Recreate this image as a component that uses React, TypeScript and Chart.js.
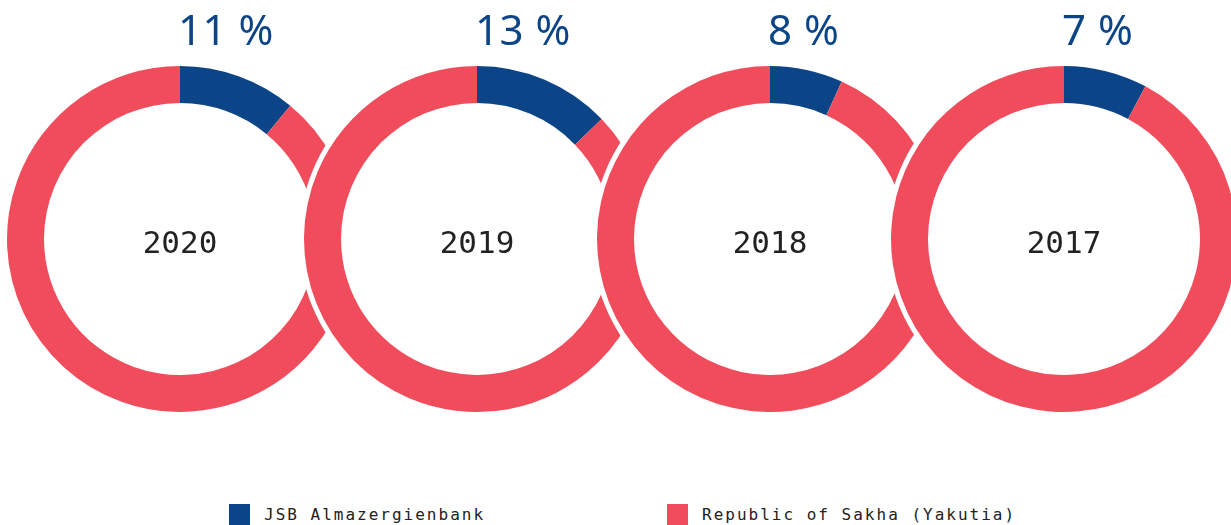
import React, { useEffect, useRef } from "react";
import { Chart, registerables } from "chart.js";

Chart.register(...registerables);

const years = ["2020", "2019", "2018", "2017"];
const bankShare = [11, 12.8, 6.8, 7.8];
const regionShare = [89, 87.2, 93.2, 92.2];
const percentLabels = ["11 %", "13 %", "8 %", "7 %"];
const seriesNames = ["JSB Almazergienbank", "Republic of Sakha (Yakutia)"];

const BLUE = "#0c4587";
const RED = "#f04c5c";
const CENTERS_X = [180, 477, 770, 1064];
const CENTER_Y = 239;
const RADIUS = 173;
const PAD = 10;
const SIZE = (RADIUS + PAD) * 2;
const GAP = 5;

function Donut({ index }: { index: number }) {
  const ref = useRef<HTMLCanvasElement | null>(null);
  useEffect(() => {
    const canvas = ref.current;
    if (!canvas) return;
    const label = years[index];
    const plugin = {
      id: "discAndLabel",
      beforeDatasetsDraw(chart: any) {
        const arc = chart.getDatasetMeta(0).data[0];
        if (!arc) return;
        const ctx = chart.ctx;
        ctx.save();
        ctx.beginPath();
        ctx.arc(arc.x, arc.y, arc.outerRadius + GAP, 0, Math.PI * 2);
        ctx.fillStyle = "#ffffff";
        ctx.fill();
        ctx.restore();
      },
      afterDatasetsDraw(chart: any) {
        const arc = chart.getDatasetMeta(0).data[0];
        if (!arc) return;
        const ctx = chart.ctx;
        ctx.save();
        ctx.font = "31px 'DejaVu Sans Mono'";
        ctx.fillStyle = "#222222";
        ctx.textAlign = "center";
        ctx.textBaseline = "alphabetic";
        ctx.fillText(label, arc.x, arc.y + 14);
        ctx.restore();
      },
    };
    const chart = new Chart(canvas, {
      type: "doughnut",
      data: {
        labels: seriesNames,
        datasets: [
          {
            data: [bankShare[index], regionShare[index]],
            backgroundColor: [BLUE, RED],
            borderWidth: 0,
            hoverOffset: 0,
          },
        ],
      },
      options: {
        responsive: false,
        animation: false,
        cutout: "78.6%",
        layout: { padding: PAD },
        plugins: { legend: { display: false }, tooltip: { enabled: false } },
      },
      plugins: [plugin],
    });
    return () => chart.destroy();
  }, [index]);
  return (
    <canvas
      ref={ref}
      width={SIZE}
      height={SIZE}
      style={{
        position: "absolute",
        left: CENTERS_X[index] - RADIUS - PAD,
        top: CENTER_Y - RADIUS - PAD,
        width: SIZE,
        height: SIZE,
      }}
    />
  );
}

export default function App() {
  return (
    <div
      style={{
        position: "fixed",
        left: 0,
        top: 0,
        width: 1231,
        height: 525,
        background: "#ffffff",
        overflow: "hidden",
      }}
    >
      {years.map((y, i) => (
        <Donut key={y} index={i} />
      ))}
      {percentLabels.map((t, i) => (
        <div
          key={t}
          style={{
            position: "absolute",
            left: CENTERS_X[i] - 2,
            top: 8,
            fontFamily: "'Noto Sans'",
            fontWeight: 400,
            fontSize: 42,
            lineHeight: "42px",
            letterSpacing: 0.5,
            color: BLUE,
            whiteSpace: "pre",
          }}
        >
          {t}
        </div>
      ))}
      {seriesNames.map((n, i) => (
        <div
          key={n}
          style={{
            position: "absolute",
            left: i === 0 ? 229 : 667,
            top: 504,
            height: 21,
            display: "flex",
            alignItems: "center",
            whiteSpace: "pre",
          }}
        >
          <div style={{ width: 21, height: 21, background: i === 0 ? BLUE : RED }} />
          <div
            style={{
              marginLeft: 14,
              fontFamily: "'DejaVu Sans Mono'",
              fontSize: 16,
              lineHeight: "21px",
              letterSpacing: 2.0,
              color: "#222222",
            }}
          >
            {n}
          </div>
        </div>
      ))}
    </div>
  );
}
